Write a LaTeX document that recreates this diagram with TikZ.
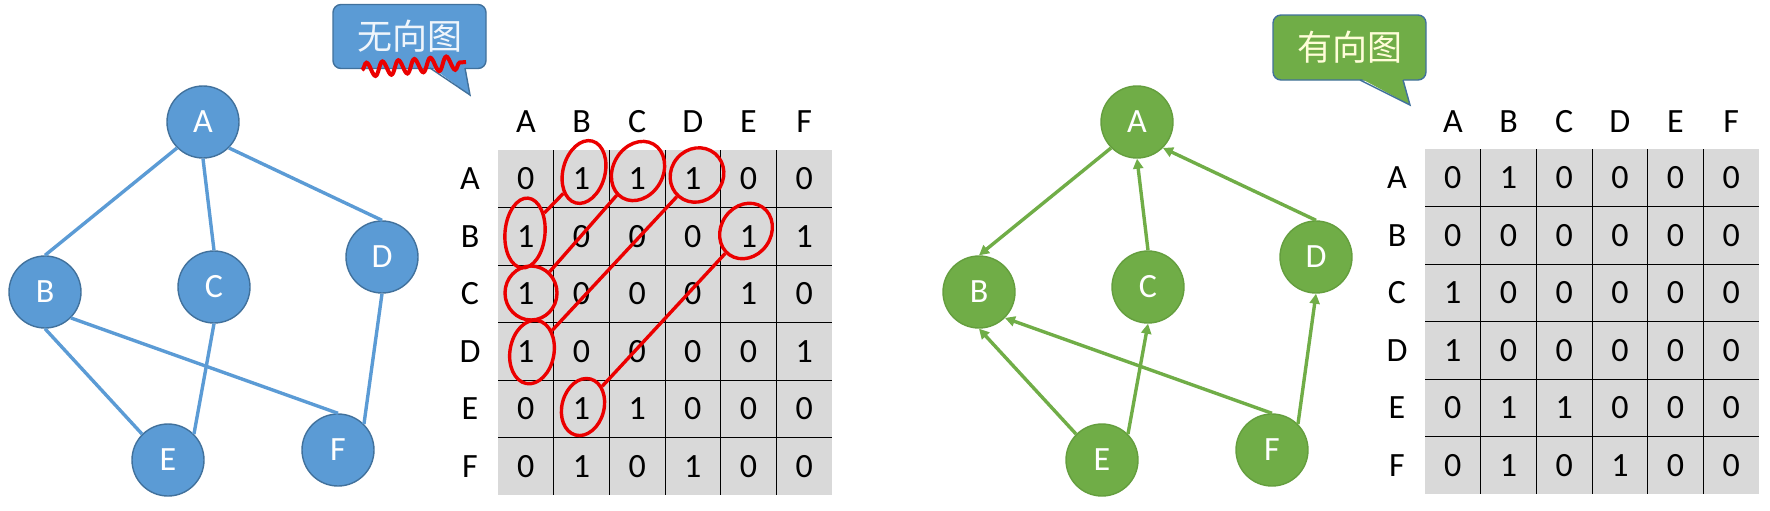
\documentclass[tikz,border=0pt]{standalone}
\usepackage{fontspec}
\setmainfont{Carlito}
\newfontfamily\cjk{Noto Sans CJK SC}
\usepackage{xcolor}
\usetikzlibrary{arrows.meta,shapes.geometric,decorations.pathmorphing}

\definecolor{ublue}{RGB}{91,155,213}
\definecolor{ublueline}{RGB}{65,113,156}
\definecolor{dgreen}{RGB}{112,173,71}
\definecolor{dgreenline}{RGB}{100,158,62}
\definecolor{cellgray}{RGB}{217,217,217}
\definecolor{inkred}{RGB}{235,0,0}

\newcommand{\bigfont}{\fontsize{17}{20}\selectfont}

\begin{document}
\begin{tikzpicture}[
  x=0.5pt, y=-0.5pt,
  uvert/.style={circle, draw=ublueline, line width=0.7pt, fill=ublue, minimum size=36pt,
                inner sep=0pt, text=white, font=\bigfont},
  dvert/.style={circle, draw=dgreenline, line width=0.7pt, fill=dgreen, minimum size=36pt,
                inner sep=0pt, text=white, font=\bigfont},
  uedge/.style={ublue, line width=1.7pt},
  dedge/.style={dgreen, line width=1.7pt, -{Triangle[length=5pt,width=5pt]}},
  callbox/.style={rectangle, rounded corners=4pt, draw=ublueline, line width=0.7pt,
                  minimum width=76.5pt, minimum height=32pt, font=\cjk\fontsize{17.5}{20}\selectfont},
  hdr/.style={font=\bigfont, inner sep=0pt},
  cell/.style={font=\bigfont, inner sep=0pt},
  gridline/.style={black, line width=0.5pt},
  inkring/.style={ellipse, draw=inkred, line width=1.7pt, inner sep=0pt},
  inkline/.style={inkred, line width=1.7pt},
]
\useasboundingbox (0,0) rectangle (1770,510);

% Callouts
\node[callbox, fill=ublue, text=white!90!ublue] (ucall) at (409.5,36.5) {无向图};
\fill[ublue] (430,66) -- (470,95) -- (465,66) -- cycle;
\draw[ublueline, line width=0.7pt] (430,68) -- (470,95) -- (465,68);

\node[callbox, fill=dgreen, text=white!85!yellow, minimum height=32.5pt] (dcall) at (1349.5,47.5) {有向图};
\fill[dgreen] (1360,78) -- (1410,105) -- (1403,78) -- cycle;
\draw[ublueline, line width=0.7pt] (1360,80) -- (1410,105) -- (1403,80);

% Undirected graph
\node[uvert] (uA) at (203,122) {A};
\node[uvert] (uB) at (45,292) {B};
\node[uvert] (uC) at (214,287) {C};
\node[uvert] (uD) at (382,257) {D};
\node[uvert] (uE) at (168,460) {E};
\node[uvert] (uF) at (338,450) {F};

\draw[uedge] (uA.south west) -- (uB.north);
\draw[uedge] (uA.south) -- (uC.north);
\draw[uedge] (uA.south east) -- (uD.north);
\draw[uedge] (uB.south) -- (uE.north west);
\draw[uedge] (uB.south east) -- (uF.north);
\draw[uedge] (uC.south) -- (uE.north east);
\draw[uedge] (uD.south) -- (uF.north east);

% Directed graph
\node[dvert] (dA) at (1137,122) {A};
\node[dvert] (dB) at (979,292) {B};
\node[dvert] (dC) at (1148,287) {C};
\node[dvert] (dD) at (1316,257) {D};
\node[dvert] (dE) at (1102,460) {E};
\node[dvert] (dF) at (1272,450) {F};

\draw[dedge] (dA.south west) -- (dB.north);
\draw[dedge] (dC.north) -- (dA.south);
\draw[dedge] (dD.north) -- (dA.south east);
\draw[dedge] (dE.north west) -- (dB.south);
\draw[dedge] (dE.north east) -- (dC.south);
\draw[dedge] (dF.north) -- (dB.south east);
\draw[dedge] (dF.north east) -- (dD.south);

% Adjacency matrix, undirected
\begin{scope}[shift={(498,150)}]
  \fill[cellgray] (0,0) rectangle (334,345);
  \foreach \k in {1,...,5} {
    \draw[gridline] ({\k*55.67},0) -- ++(0,345);
    \draw[gridline] (0,{\k*57.5}) -- ++(334,0);
  }
  \foreach \lab [count=\i] in {A,...,F} {
    \node[hdr] (uc\i) at ({(\i-0.5)*55.67},-28) {\lab};
    \node[hdr] (ur\i) at (-28,{(\i-0.5)*57.5}) {\lab};
  }
  \foreach \row [count=\i] in {{0,1,1,1,0,0},{1,0,0,0,1,1},{1,0,0,0,1,0},
                               {1,0,0,0,0,1},{0,1,1,0,0,0},{0,1,0,1,0,0}} {
    \foreach \v [count=\j] in \row {
      \node[cell] (u\i\j) at ({(\j-0.5)*55.67},{(\i-0.5)*57.5}) {\v};
    }
  }
\end{scope}

% Adjacency matrix, directed
\begin{scope}[shift={(1425,149)}]
  \fill[cellgray] (0,0) rectangle (334,345);
  \foreach \k in {1,...,5} {
    \draw[gridline] ({\k*55.67},0) -- ++(0,345);
    \draw[gridline] (0,{\k*57.5}) -- ++(334,0);
  }
  \foreach \lab [count=\i] in {A,...,F} {
    \node[hdr] (dc\i) at ({(\i-0.5)*55.67},-27) {\lab};
    \node[hdr] (dr\i) at (-28,{(\i-0.5)*57.5}) {\lab};
  }
  \foreach \row [count=\i] in {{0,1,0,0,0,0},{0,0,0,0,0,0},{1,0,0,0,0,0},
                               {1,0,0,0,0,0},{0,1,1,0,0,0},{0,1,0,1,0,0}} {
    \foreach \v [count=\j] in \row {
      \node[cell] (d\i\j) at ({(\j-0.5)*55.67},{(\i-0.5)*57.5}) {\v};
    }
  }
\end{scope}

% Red ink marks
\draw[inkline, line width=2pt, decorate, decoration={snake, amplitude=3.5pt, segment length=8pt}]
  (362,70) -- (466,62);

\node[inkring, minimum width=21pt, minimum height=32pt, rotate=-15] (rAB) at (584,172) {};
\node[inkring, minimum width=25pt, minimum height=31pt, rotate=-30] (rAC) at (638,171) {};
\node[inkring, minimum width=26pt, minimum height=28pt, rotate=-40] (rAD) at (697,175) {};
\node[inkring, minimum width=20pt, minimum height=35pt, rotate=-5] (rBA) at (525,233) {};
\node[inkring, minimum width=26pt, minimum height=27pt] (rCA) at (531,293) {};
\node[inkring, minimum width=22pt, minimum height=32pt, rotate=-10] (rDA) at (532,352) {};
\node[inkring, minimum width=25pt, minimum height=29pt, rotate=-35] (rBE) at (746,231) {};
\node[inkring, minimum width=21pt, minimum height=29pt, rotate=-15] (rEB) at (583,407) {};

\draw[inkline] (rBA) -- (rAB);
\draw[inkline] (rCA) -- (rAC);
\draw[inkline] (rDA) -- (rAD);
\draw[inkline] (rEB) -- (rBE);

\end{tikzpicture}
\end{document}
